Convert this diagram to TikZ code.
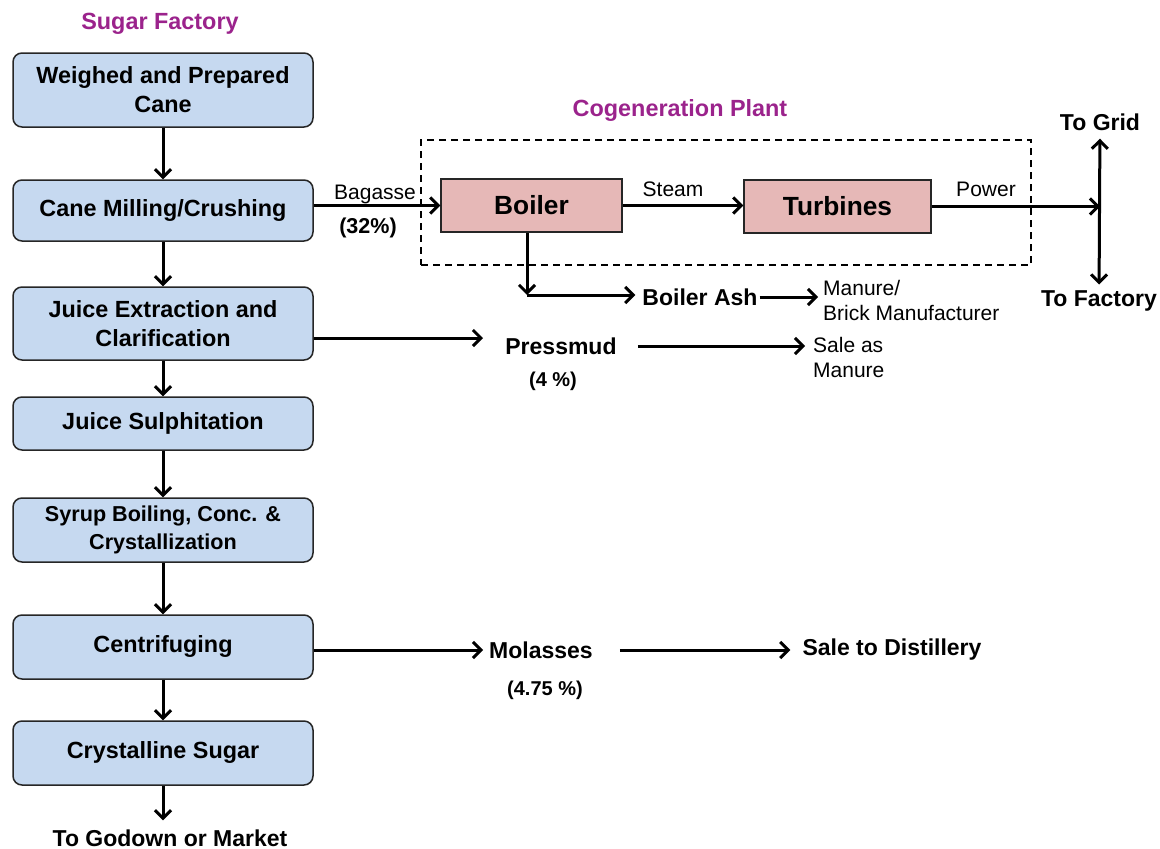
\documentclass[tikz,border=0pt]{standalone}
\usepackage{fontspec}
\setmainfont{Liberation Sans}
\usetikzlibrary{arrows.meta}
\definecolor{boxblue}{RGB}{198,217,240}
\definecolor{boxpink}{RGB}{230,184,183}
\definecolor{titlepurple}{RGB}{155,35,140}
\newcommand{\up}[1]{\raisebox{5pt}{#1}}
\begin{document}
\begin{tikzpicture}[x=1pt,y=-1pt,
 tip/.tip={Straight Barb[length=8pt,width=16pt,line width=3pt]},
 arr/.style={line width=3pt,-tip},
 darr/.style={line width=3pt,tip-tip},
 stepbox/.style={draw=black!85,line width=1.5pt,rounded corners=9pt,fill=boxblue,minimum width=300pt,align=center,font=\bfseries\fontsize{23.4}{29}\selectfont,inner sep=0pt},
 plantbox/.style={draw=black!85,line width=1.5pt,fill=boxpink,font=\bfseries\fontsize{26.3}{30}\selectfont,inner sep=0pt},
 lbl/.style={font=\fontsize{21}{25}\selectfont,inner sep=0pt},
 blbl/.style={font=\bfseries\fontsize{23}{26}\selectfont,inner sep=0pt},
 pct/.style={font=\bfseries\fontsize{20}{24}\selectfont,inner sep=0pt},
 title/.style={font=\bfseries\fontsize{23.4}{26}\selectfont,text=titlepurple,inner sep=0pt}]
\useasboundingbox[fill=white] (0,0) rectangle (1160,849);
% Sugar factory column
\node[title] (sf) at (160,24) {Sugar Factory};
\node[stepbox,minimum height=74pt] (b1) at (163,90) {Weighed and Prepared\\Cane};
\node[stepbox,minimum height=61pt] (b2) at (163,210.5) {\up{Cane Milling/Crushing}};
\node[stepbox,minimum height=73pt] (b3) at (163,323.5) {Juice Extraction and\\Clarification};
\node[stepbox,minimum height=53pt] (b4) at (163,423.5) {\up{Juice Sulphitation}};
\node[stepbox,minimum height=64pt,font=\bfseries\fontsize{21.6}{28}\selectfont] (b5) at (163,530) {Syrup Boiling, Conc. \&\\Crystallization};
\node[stepbox,minimum height=64pt] (b6) at (163,647) {\up{Centrifuging}};
\node[stepbox,minimum height=64pt] (b7) at (163,753) {\up{Crystalline Sugar}};
\node[blbl] (god) at (170,838) {To Godown or Market};
\draw[arr] (b1) -- (b2);
\draw[arr] (b2) -- (b3);
\draw[arr] (b3) -- (b4);
\draw[arr] (b4) -- (b5);
\draw[arr] (b5) -- (b6);
\draw[arr] (b6) -- (b7);
\draw[arr,shorten >=9pt] (b7.south) -- (b7.south |- god.north);
% Cogeneration plant
\node[title] (cp) at (680,110) {Cogeneration Plant};
\node[draw,dashed,dash pattern=on 7pt off 5pt,line width=1.3pt,minimum width=610pt,minimum height=125pt,inner sep=0pt] (cogen) at (726,202.5) {};
\node[plantbox,minimum width=181pt,minimum height=53pt] (boiler) at (531.5,205.5) {Boiler};
\node[plantbox,minimum width=187pt,minimum height=53pt] (turb) at (837.5,206.5) {Turbines};
\draw[arr] (b2.east |- boiler.west) -- (boiler.west);
\node[lbl] (bag) at (375,194) {Bagasse};
\node[pct,font=\bfseries\fontsize{21.5}{24}\selectfont] (bagp) at (368,228) {(32\%)};
\draw[arr] (boiler.east) -- (boiler.east -| turb.west);
\node[lbl] (steam) at (673,189) {Steam};
\coordinate (split) at (1100,205);
\draw[arr] (turb.east) -- (turb.east -| split);
\node[lbl] (power) at (986,189) {Power};
\node[blbl] (grid) at (1100,122) {To Grid};
\node[blbl] (fac) at (1099,301) {To Factory};
\draw[darr,shorten <=8pt,shorten >=6pt] (grid) -- (fac);
% Boiler ash
\coordinate (corner) at (527,295);
\node[blbl] (ash) at (700,297) {Boiler Ash};
\node[lbl,anchor=west,align=left] (man) at (823,300) {Manure/\\Brick Manufacturer};
\draw[arr] (boiler.south -| corner) -- (corner);
\draw[arr,shorten >=7pt] (corner) -- (corner -| ash.west);
\draw[arr,shorten <=2pt,shorten >=5pt] (ash.east) -- (ash.east -| man.west);
% Pressmud
\coordinate (pmin) at (483,338);
\node[blbl] (pm) at (561,346) {Pressmud};
\node[pct] (pmp) at (553,381) {(4 \%)};
\node[lbl,anchor=west,align=left] (sale) at (813,357) {Sale as\\Manure};
\draw[arr] (b3.east |- pmin) -- (pmin);
\draw[arr,shorten <=21pt,shorten >=8pt] (pm.east) -- (pm.east -| sale.west);
% Molasses
\node[blbl] (mol) at (541,650) {Molasses};
\node[pct] (molp) at (545,690) {(4.75 \%)};
\node[blbl] (dist) at (892,650) {Sale to Distillery};
\draw[arr,shorten >=6pt] (b6.east |- mol) -- (mol.west);
\draw[arr,shorten <=27pt,shorten >=12pt] (mol.east) -- (dist.west);
\end{tikzpicture}
\end{document}
